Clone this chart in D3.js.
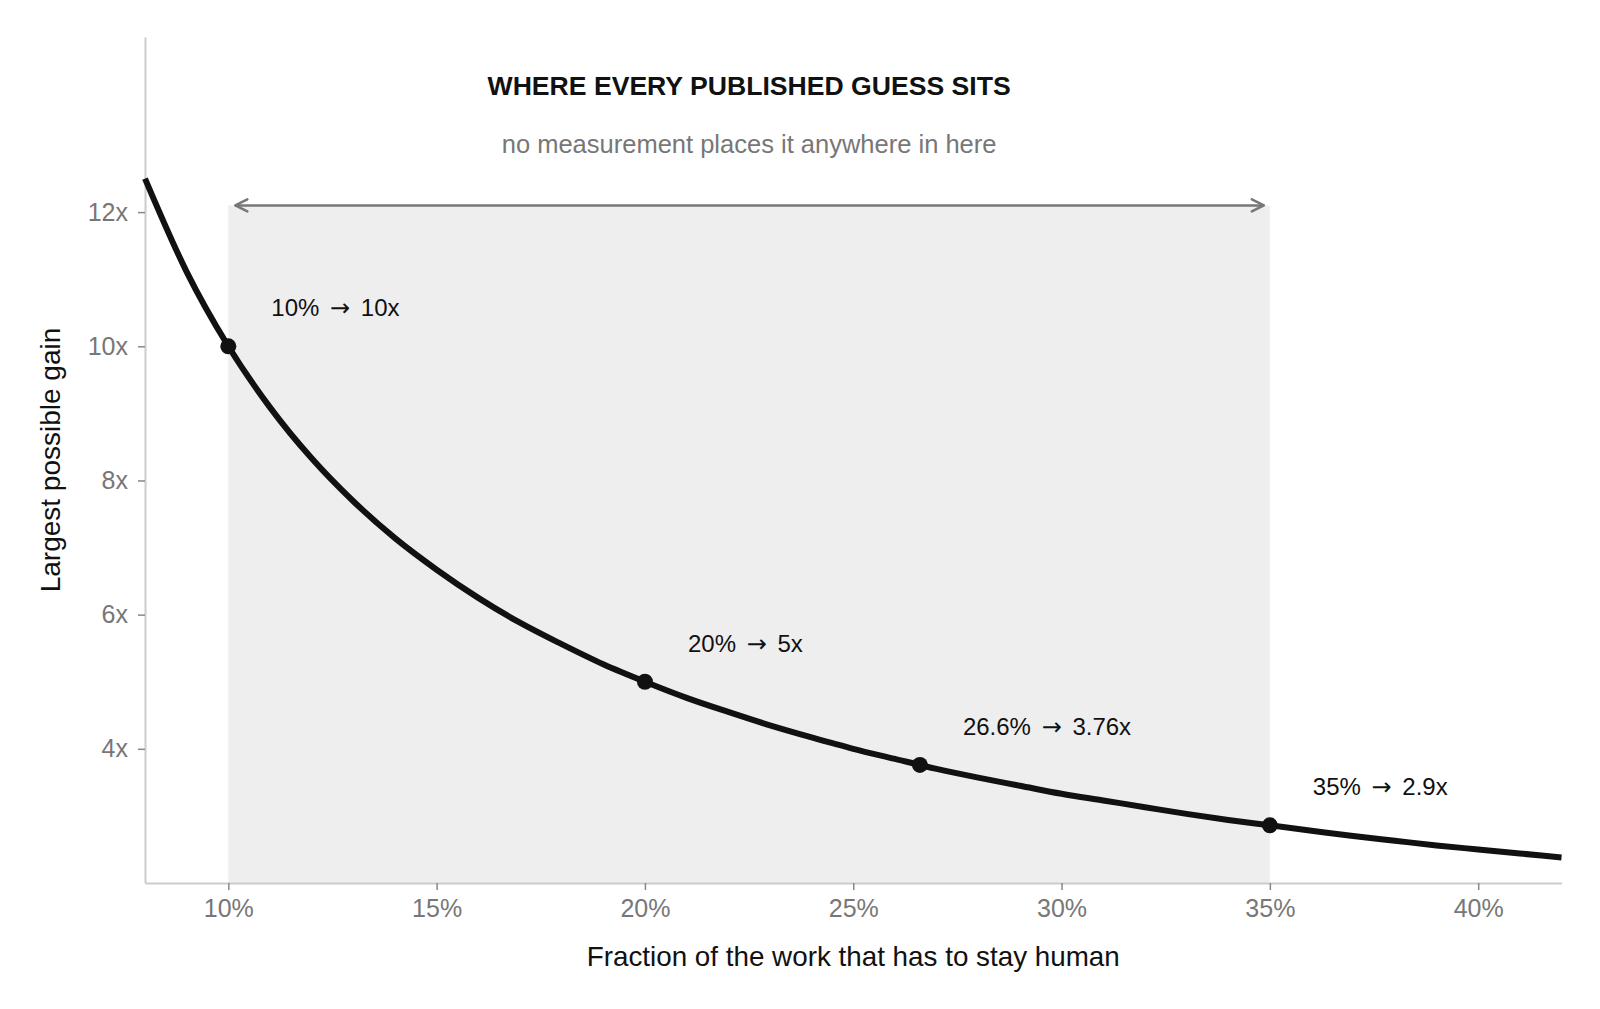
<!DOCTYPE html>
<html>
<head>
<meta charset="utf-8">
<script src="https://cdn.jsdelivr.net/npm/d3@7"></script>
<style>
  html, body { margin: 0; padding: 0; background: #fff; }
  svg { display: block; font-family: "Liberation Sans", Arial, sans-serif; }
</style>
</head>
<body>
<div id="chart"></div>
<script>
// share of work that stays human -> largest possible gain
const shareHuman = [0.08, 0.09, 0.10, 0.11, 0.12, 0.13, 0.14, 0.15, 0.16, 0.17, 0.18, 0.19,
    0.20, 0.21, 0.22, 0.23, 0.24, 0.25, 0.26, 0.27, 0.28, 0.29, 0.30, 0.31, 0.32, 0.33,
    0.34, 0.35, 0.36, 0.37, 0.38, 0.39, 0.40, 0.41, 0.42];
const maxGain = [12.5, 11.11, 10.0, 9.09, 8.33, 7.69, 7.14, 6.67, 6.25, 5.88, 5.56, 5.26,
    5.0, 4.76, 4.55, 4.35, 4.17, 4.0, 3.85, 3.70, 3.57, 3.45, 3.33, 3.23, 3.13, 3.03,
    2.94, 2.86, 2.78, 2.70, 2.63, 2.56, 2.50, 2.44, 2.38];

// marked points
const markShare = [0.10, 0.20, 0.266, 0.35];
const markGain = [10, 5, 3.76, 2.86];
const markLabels = ["10% → 10x", "20% → 5x", "26.6% → 3.76x", "35% → 2.9x"];

// shaded band of published guesses
const bandFrom = 0.10;
const bandTo = 0.35;
const bandTop = 12.1;

const xTicks = [0.10, 0.15, 0.20, 0.25, 0.30, 0.35, 0.40];
const yTicks = [4, 6, 8, 10, 12];

const titleText = "WHERE EVERY PUBLISHED GUESS SITS";
const subtitleText = "no measurement places it anywhere in here";
const xTitle = "Fraction of the work that has to stay human";
const yTitle = "Largest possible gain";

const W = 1600, H = 1009;
const plotLeft = 145, plotRight = 1561.5, plotTop = 37, plotBottom = 883;

const svg = d3.select("#chart").append("svg")
    .attr("width", W)
    .attr("height", H);

const x = d3.scaleLinear().domain([0.08, 0.42]).range([plotLeft, plotRight]);
const y = d3.scaleLinear().domain([2, 14.61]).range([plotBottom, plotTop]);

// shaded band
svg.append("rect")
    .attr("x", x(bandFrom))
    .attr("y", y(bandTop))
    .attr("width", x(bandTo) - x(bandFrom))
    .attr("height", y(2) - y(bandTop))
    .attr("fill", "#eeeeee");

// axes
const xAxis = svg.append("g")
    .attr("transform", `translate(0,${plotBottom})`)
    .call(d3.axisBottom(x).tickValues(xTicks).tickSize(7).tickSizeOuter(0).tickPadding(10)
        .tickFormat(d => Math.round(d * 100) + "%"));
const yAxis = svg.append("g")
    .attr("transform", `translate(${plotLeft},0)`)
    .call(d3.axisLeft(y).tickValues(yTicks).tickSize(7).tickSizeOuter(0).tickPadding(10)
        .tickFormat(d => d + "x"));

[xAxis, yAxis].forEach(g => {
    g.select(".domain").attr("stroke", "#cccccc").attr("stroke-width", 2);
    g.selectAll(".tick line").attr("stroke", "#888888").attr("stroke-width", 1.5);
    g.selectAll(".tick text")
        .attr("fill", "#777777")
        .style("font-size", "25px")
        .style("font-family", "'Liberation Sans', Arial, sans-serif");
});
xAxis.selectAll(".tick text").attr("dy", "0.68em");

// curve
const line = d3.line()
    .x((d, i) => x(shareHuman[i]))
    .y(d => y(d))
    .curve(d3.curveMonotoneX);

svg.append("path")
    .datum(maxGain)
    .attr("d", line)
    .attr("fill", "none")
    .attr("stroke", "#111111")
    .attr("stroke-width", 6);

svg.selectAll("circle.mark")
    .data(markGain)
    .join("circle")
    .attr("class", "mark")
    .attr("cx", (d, i) => x(markShare[i]))
    .attr("cy", d => y(d))
    .attr("r", 8)
    .attr("fill", "#111111");

// labels: the arrow glyph is taken from DejaVu so it sits mid-height like the original
const labels = svg.selectAll("text.mark-label")
    .data(markLabels)
    .join("text")
    .attr("class", "mark-label")
    .attr("x", (d, i) => x(markShare[i]) + 43)
    .attr("y", (d, i) => y(markGain[i]) - 30)
    .attr("fill", "#111111")
    .style("font-size", "24px");

labels.each(function(d) {
    const parts = d.split("→");
    const t = d3.select(this);
    t.append("tspan").text(parts[0]);
    t.append("tspan")
        .attr("dx", 4)
        .style("font-family", "'DejaVu Sans', sans-serif")
        .style("font-size", "24px")
        .text("→");
    t.append("tspan").attr("dx", 4).text(parts[1]);
});

// double arrow over the band
const defs = svg.append("defs");
defs.append("marker")
    .attr("id", "chev")
    .attr("markerUnits", "userSpaceOnUse")
    .attr("viewBox", "-15 -8 17 16")
    .attr("refX", 0)
    .attr("refY", 0)
    .attr("markerWidth", 17)
    .attr("markerHeight", 16)
    .attr("orient", "auto-start-reverse")
    .append("path")
    .attr("d", "M-12,-6L0,0L-12,6")
    .attr("fill", "none")
    .attr("stroke", "#777777")
    .attr("stroke-width", 2.5)
    .attr("stroke-linecap", "round")
    .attr("stroke-linejoin", "round");

svg.append("line")
    .attr("x1", x(bandFrom) + 7)
    .attr("x2", x(bandTo) - 6)
    .attr("y1", y(bandTop))
    .attr("y2", y(bandTop))
    .attr("stroke", "#777777")
    .attr("stroke-width", 2.5)
    .attr("marker-start", "url(#chev)")
    .attr("marker-end", "url(#chev)");

const midBand = (x(bandFrom) + x(bandTo)) / 2;

svg.append("text")
    .attr("x", midBand)
    .attr("y", 95)
    .attr("text-anchor", "middle")
    .attr("fill", "#111111")
    .style("font-size", "26.6px")
    .style("font-weight", "bold")
    .text(titleText);

svg.append("text")
    .attr("x", midBand)
    .attr("y", 153)
    .attr("text-anchor", "middle")
    .attr("fill", "#777777")
    .style("font-size", "25.5px")
    .text(subtitleText);

// axis titles
svg.append("text")
    .attr("x", (plotLeft + plotRight) / 2)
    .attr("y", 966)
    .attr("text-anchor", "middle")
    .attr("fill", "#111111")
    .style("font-size", "27.8px")
    .text(xTitle);

svg.append("text")
    .attr("transform", `translate(60,${(plotTop + plotBottom) / 2}) rotate(-90)`)
    .attr("text-anchor", "middle")
    .attr("fill", "#111111")
    .style("font-size", "28px")
    .text(yTitle);
</script>
</body>
</html>
